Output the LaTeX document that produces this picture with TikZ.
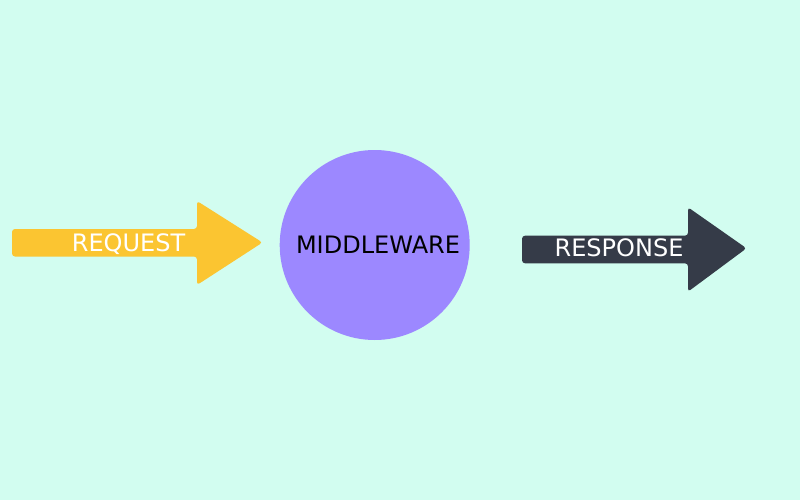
\documentclass[tikz,border=0pt]{standalone}
\usepackage{fontspec}
\setmainfont{DejaVu Sans}
\usepackage{tikz}

\definecolor{bgmint}{HTML}{D2FDF0}
\definecolor{reqyellow}{HTML}{FBC531}
\definecolor{mwpurple}{HTML}{9C88FF}
\definecolor{resdark}{HTML}{353B48}

\begin{document}
\begin{tikzpicture}[x=1pt, y=-1pt,
							blockarrow/.style={rounded corners=3pt},
							word/.style={anchor=base, inner sep=0pt, font=\fontsize{24}{28}\selectfont}]
			\tikzstyle{every path}=[draw=none]
			\fill[bgmint] (0,0) rectangle (800,500);
			\useasboundingbox (0,0) rectangle (800,500);

			% request arrow
			\fill[blockarrow, reqyellow] (12,229) -- (197,229) -- (197,201) -- (262.5,242.5)
				-- (197,285) -- (197,256.5) -- (12,256.5) -- cycle;
			\node[word, text=white] (request) at (128.5,251) {REQUEST};

			% middleware
			\node[circle, fill=mwpurple, minimum size=190pt, inner sep=0pt] (mw) at (374.7,245) {};
			\node[word, text=black] (mwtext) at (378,253.3) {MIDDLEWARE};

			% response arrow
			\fill[blockarrow, resdark] (522,235.7) -- (688,235.7) -- (688,207.3) -- (746.5,248.3)
				-- (688,291.7) -- (688,263.3) -- (522,263.3) -- cycle;
			\node[word, text=white] (response) at (619,256.7) {RESPONSE};

		\end{tikzpicture}
\end{document}
